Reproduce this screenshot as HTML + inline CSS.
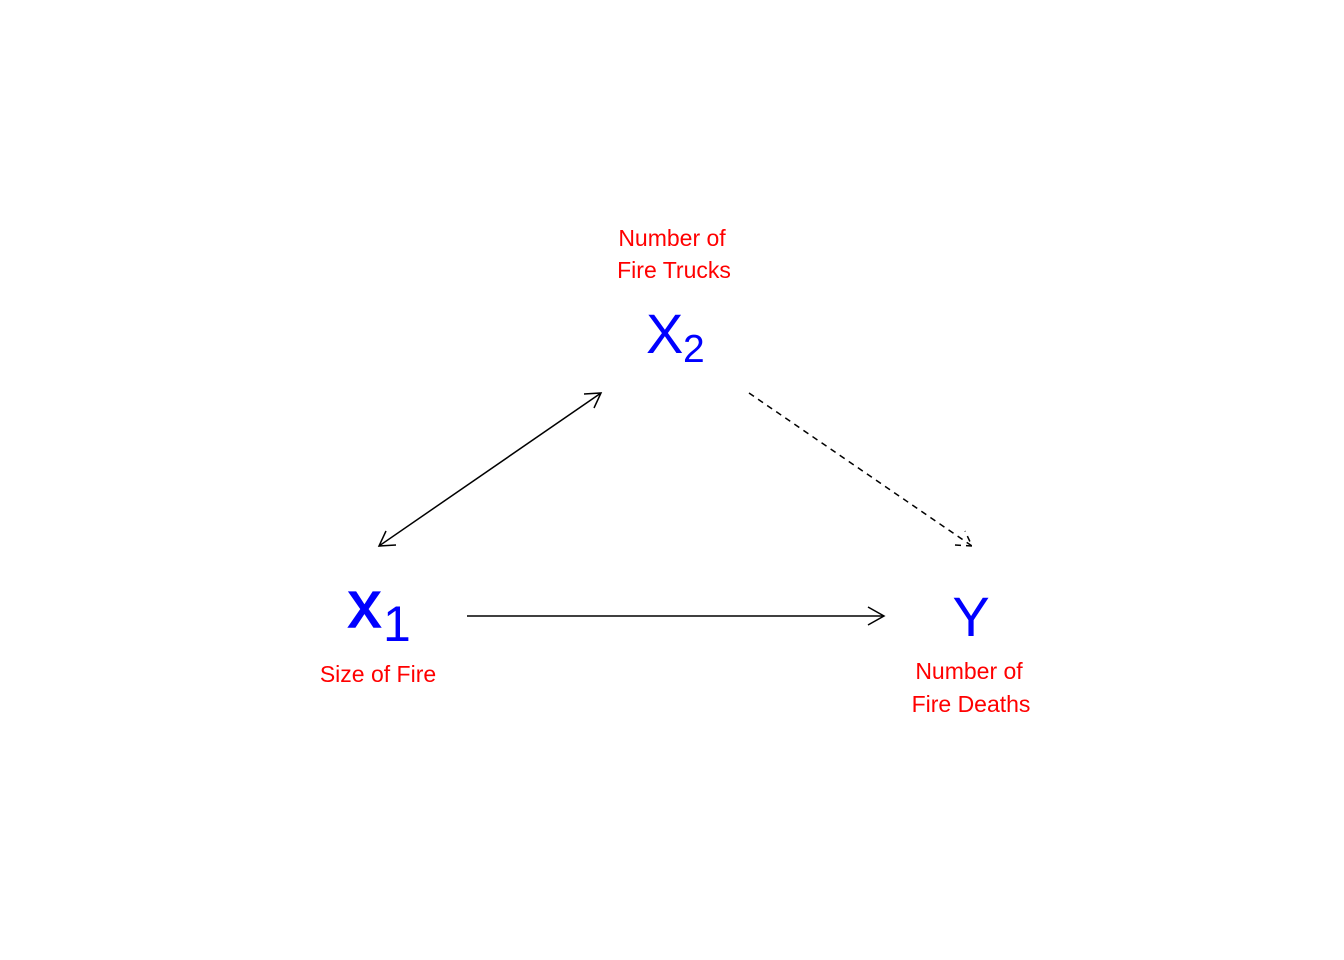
<!DOCTYPE html>
<html><head><style>html,body{margin:0;padding:0;background:#fff;}svg{display:block;}</style></head>
<body>
<svg width="1344" height="960" xmlns="http://www.w3.org/2000/svg" font-family="Liberation Sans, Arial, sans-serif">
<g fill="#ff0000" font-size="23" text-anchor="middle">
<text x="672" y="246">Number of</text>
<text x="674" y="278">Fire Trucks</text>
<text x="378" y="682">Size of Fire</text>
<text x="969" y="679">Number of</text>
<text x="971" y="712">Fire Deaths</text>
</g>
<g fill="#0000ff">
<text x="646" y="353" font-size="56">X</text>
<text x="683" y="362" font-size="39">2</text>
<text x="348" y="627" font-size="66" stroke="#0000ff" stroke-width="1.5">x</text>
<text x="383" y="641" font-size="50">1</text>
<text x="971" y="636" font-size="56" text-anchor="middle">Y</text>
</g>
<g stroke="#000" stroke-width="1.5" fill="none">
<line x1="379" y1="546" x2="601" y2="393"/>
<polyline points="584,394 601,393 594,408"/>
<polyline points="396,545 379,546 386,531"/>
<line x1="467" y1="616" x2="884" y2="616"/>
<polyline points="868,607 884,616 868,625"/>
<line x1="749" y1="393" x2="972" y2="546" stroke-dasharray="6,5"/>
<polyline points="955,545 972,546 965,531" stroke-dasharray="6,5"/>
</g>
</svg>
</body></html>
